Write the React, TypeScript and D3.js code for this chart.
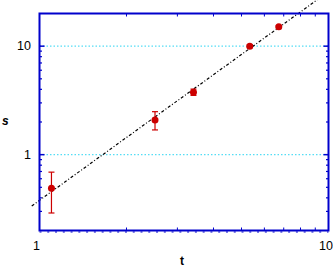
import React from "react";
import * as d3 from "d3";

const tValues = [1.1, 2.51, 3.41, 5.34, 6.73];
const sValues = [0.49, 2.09, 3.77, 10.0, 15.1];
const sErrors = [0.2, 0.4, 0.25, 0.3, 0.3];
const fitT = [0.94, 10];
const fitS = [0.337, 31.8];
const xMinorTicks = [2, 3, 4, 5, 6, 7, 8, 9];
const yMajorTicks = [1, 10];
const yMinorTicks = [0.3, 0.4, 0.5, 0.6, 0.7, 0.8, 0.9, 2, 3, 4, 5, 6, 7, 8, 9];
const xLabels = [1, 10];
const yLabels = [1, 10];

const W = 333;
const H = 268;
const L = 39.5;
const R = 328.5;
const T = 13.5;
const B = 230.5;
const BLUE = "#0000cc";
const RED = "#cc0000";
const FONT = "Liberation Sans, Arial, sans-serif";

export default function App() {
  const x = d3.scaleLog().domain([1, 10]).range([L, R]);
  const y = d3.scaleLog().domain([0.2, 20]).range([B, T]);
  const line = d3
    .line<number>()
    .x((_, i) => x(fitT[i]))
    .y((d) => y(d));

  return (
    <svg
      width={W}
      height={H}
      style={{ position: "absolute", left: 0, top: 0, background: "#fff" }}
    >
      {/* grid */}
      {yMajorTicks.map((v) => (
        <line
          key={"g" + v}
          x1={L}
          x2={R}
          y1={y(v)}
          y2={y(v)}
          stroke="#55ddf5"
          strokeWidth={1.2}
          strokeDasharray="1.5,2"
        />
      ))}
      {/* fit line */}
      <path
        d={line(fitS) || ""}
        fill="none"
        stroke="#000"
        strokeWidth={1.2}
        strokeDasharray="3,2,1,2"
      />
      {/* error bars */}
      {tValues.map((t, i) => {
        const cx = x(t);
        const y1 = y(sValues[i] + sErrors[i]);
        const y2 = y(sValues[i] - sErrors[i]);
        return (
          <g key={"e" + i} stroke={RED} strokeWidth={1.2}>
            <line x1={cx} x2={cx} y1={y1} y2={y2} />
            <line x1={cx - 3} x2={cx + 3} y1={y1} y2={y1} />
            <line x1={cx - 3} x2={cx + 3} y1={y2} y2={y2} />
          </g>
        );
      })}
      {tValues.map((t, i) => (
        <circle key={"p" + i} cx={x(t)} cy={y(sValues[i])} r={3.5} fill={RED} />
      ))}
      {/* frame */}
      <rect x={L} y={T} width={R - L} height={B - T} fill="none" stroke={BLUE} strokeWidth={2} />
      {/* dotted marks below bottom axis */}
      <line
        x1={L}
        x2={R}
        y1={B + 1.5}
        y2={B + 1.5}
        stroke={BLUE}
        strokeWidth={1}
        strokeDasharray="2,5.77"
      />
      {/* x ticks */}
      {xMinorTicks.map((v) => (
        <g key={"xt" + v} stroke={BLUE} strokeWidth={1}>
          <line x1={x(v)} x2={x(v)} y1={B} y2={B - 3} />
          <line x1={x(v)} x2={x(v)} y1={T} y2={T + 3} />
        </g>
      ))}
      {/* y ticks */}
      {yMajorTicks.map((v) => (
        <g key={"ym" + v} stroke={BLUE} strokeWidth={1.5}>
          <line x1={L} x2={L + 5} y1={y(v)} y2={y(v)} />
          <line x1={R} x2={R - 5} y1={y(v)} y2={y(v)} />
        </g>
      ))}
      {yMinorTicks.map((v) => (
        <g key={"yt" + v} stroke={BLUE} strokeWidth={1.2}>
          <line x1={L} x2={L + 2.5} y1={y(v)} y2={y(v)} />
          <line x1={R} x2={R - 2.5} y1={y(v)} y2={y(v)} />
        </g>
      ))}
      {/* labels */}
      {yLabels.map((v) => (
        <text
          key={"yl" + v}
          x={31}
          y={y(v) + 4}
          textAnchor="end"
          fontFamily={FONT}
          fontSize={12.5}
          fill="#000"
        >
          {v}
        </text>
      ))}
      {xLabels.map((v) => (
        <text
          key={"xl" + v}
          x={x(v) - (v === 1 ? 3 : 2.5)}
          y={250}
          textAnchor="middle"
          fontFamily={FONT}
          fontSize={12.5}
          fill="#000"
        >
          {v}
        </text>
      ))}
      <text x={2} y={125} fontFamily={FONT} fontSize={12} fontWeight="bold" fontStyle="italic" fill="#000">
        s
      </text>
      <text x={180} y={265} fontFamily={FONT} fontSize={12} fontWeight="bold" fill="#000">
        t
      </text>
    </svg>
  );
}
